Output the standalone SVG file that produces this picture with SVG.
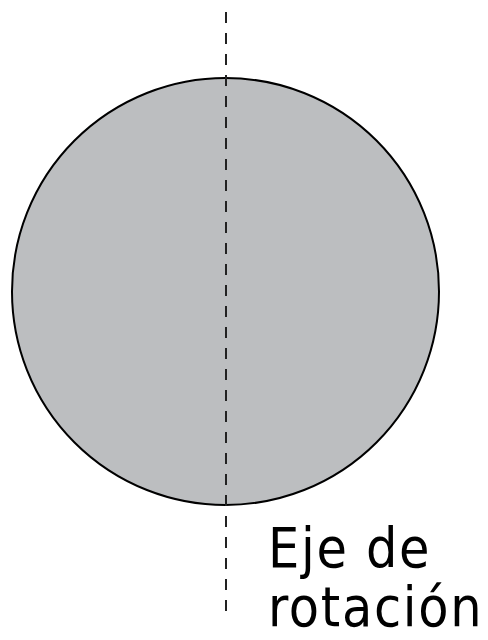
<svg xmlns="http://www.w3.org/2000/svg" width="488" height="640" viewBox="0 0 488 640">
<style>
.lbl{font-family:"DejaVu Sans Condensed","DejaVu Sans",sans-serif;font-stretch:condensed;font-size:55px;letter-spacing:1.7px;fill:#000}
</style>
<rect width="488" height="640" fill="#fff"/>
<g id="sphere">
<circle cx="225.5" cy="291.5" r="213.5" fill="#bcbec0" stroke="#000" stroke-width="2"/>
</g>
<g id="connectors">
<line x1="226" y1="12" x2="226" y2="612" stroke="#222" stroke-width="2" stroke-dasharray="11 10"/>
</g>
<g id="label">
<text class="lbl" x="268" y="567">Eje de</text>
<text class="lbl" x="268" y="626">rotación</text>
</g>
</svg>
